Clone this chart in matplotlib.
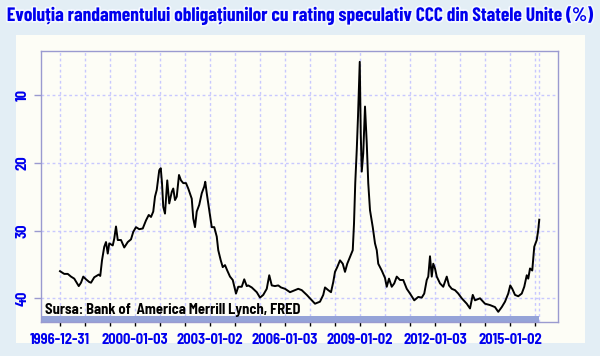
import matplotlib
matplotlib.use("Agg")
import matplotlib.pyplot as plt
import matplotlib.patheffects as pe
from matplotlib.patches import Rectangle

# CCC yield series (decimal year, value on the printed axis)
years = [1997.00, 1997.17, 1997.31, 1997.44, 1997.57, 1997.75, 1997.84, 1997.93,
         1998.04, 1998.17, 1998.24, 1998.37, 1998.55, 1998.61, 1998.68, 1998.77,
         1998.84, 1998.91, 1998.97, 1999.11, 1999.17, 1999.24, 1999.31, 1999.44,
         1999.57, 1999.71, 1999.84, 1999.93, 2000.04, 2000.17, 2000.31, 2000.44,
         2000.55, 2000.64, 2000.73, 2000.80, 2000.87, 2000.97, 2001.03, 2001.08,
         2001.13, 2001.20, 2001.29, 2001.37, 2001.47, 2001.53, 2001.60, 2001.67,
         2001.76, 2001.84, 2001.93, 2002.04, 2002.13, 2002.27, 2002.33, 2002.40,
         2002.47, 2002.57, 2002.67, 2002.77, 2002.81, 2002.87, 2002.97, 2003.07,
         2003.17, 2003.27, 2003.33, 2003.43, 2003.51, 2003.60, 2003.69, 2003.80,
         2003.91, 2004.04, 2004.13, 2004.27, 2004.37, 2004.47, 2004.53, 2004.67,
         2004.87, 2005.00, 2005.13, 2005.27, 2005.37, 2005.47, 2005.60, 2005.73,
         2005.84, 2006.00, 2006.20, 2006.40, 2006.53, 2006.67, 2006.87, 2007.07,
         2007.20, 2007.40, 2007.53, 2007.60, 2007.73, 2007.84, 2007.93, 2008.00,
         2008.09, 2008.20, 2008.31, 2008.40, 2008.49, 2008.60, 2008.71, 2008.76,
         2008.81, 2008.87, 2008.92, 2008.99, 2009.03, 2009.07, 2009.13, 2009.20,
         2009.27, 2009.33, 2009.40, 2009.51, 2009.60, 2009.67, 2009.73, 2009.87,
         2010.00, 2010.07, 2010.16, 2010.27, 2010.37, 2010.47, 2010.60, 2010.73,
         2010.87, 2011.00, 2011.17, 2011.33, 2011.47, 2011.57, 2011.67, 2011.73,
         2011.80, 2011.87, 2011.93, 2012.00, 2012.07, 2012.20, 2012.33, 2012.47,
         2012.56, 2012.67, 2012.80, 2012.93, 2013.07, 2013.27, 2013.40, 2013.51,
         2013.60, 2013.80, 2014.00, 2014.20, 2014.40, 2014.53, 2014.67, 2014.80,
         2014.93, 2015.01, 2015.09, 2015.20, 2015.33, 2015.47, 2015.57, 2015.67,
         2015.73, 2015.80, 2015.89, 2015.97, 2016.07, 2016.13, 2016.17]
values = [36.0, 36.4, 36.4, 36.8, 37.1, 38.2, 37.7, 36.8,
          37.2, 37.6, 37.7, 36.9, 36.5, 36.7, 34.4, 32.4,
          31.7, 33.4, 31.9, 32.2, 31.2, 29.4, 31.4, 31.4,
          32.5, 31.7, 31.3, 30.2, 29.5, 29.8, 29.7, 28.5,
          27.7, 28.0, 27.2, 25.0, 24.0, 21.1, 20.8, 23.0,
          26.5, 27.5, 22.6, 26.0, 24.3, 23.8, 25.5, 25.0,
          21.8, 22.6, 23.0, 23.0, 23.8, 25.3, 28.2, 29.5,
          27.2, 26.2, 24.5, 23.5, 22.8, 24.5, 27.0, 29.5,
          29.5, 30.9, 32.9, 34.4, 35.4, 35.1, 35.9, 36.8,
          37.3, 39.3, 38.3, 38.3, 37.2, 38.2, 38.1, 38.4,
          39.1, 39.9, 39.5, 38.6, 36.6, 38.1, 38.2, 38.1,
          38.4, 38.6, 39.1, 38.8, 38.6, 38.8, 39.5, 40.3,
          40.8, 40.5, 39.5, 38.4, 38.8, 39.1, 37.6, 36.1,
          35.4, 34.4, 34.9, 36.1, 34.9, 33.9, 32.9, 29.0,
          23.0, 18.1, 13.2, 5.1, 15.7, 21.3, 18.6, 11.7,
          17.1, 23.0, 27.0, 29.5, 31.9, 32.9, 34.9, 35.9,
          37.0, 38.3, 37.1, 38.3, 37.8, 36.8, 37.3, 37.3,
          38.6, 39.3, 40.3, 39.8, 39.9, 39.3, 37.3, 36.8,
          33.8, 36.8, 34.9, 35.6, 36.8, 37.8, 38.3, 36.8,
          38.1, 38.6, 38.8, 39.3, 40.0, 40.8, 41.5, 39.5,
          40.3, 40.0, 40.8, 41.0, 41.3, 42.0, 41.3, 40.5,
          39.3, 38.1, 38.6, 39.5, 39.7, 39.3, 38.3, 36.6,
          37.1, 35.6, 35.9, 32.4, 31.4, 29.9, 28.4]

tick_years = list(range(1997, 2017))
tick_labels = {1997: "1996-12-31", 2000: "2000-01-03", 2003: "2003-01-02",
               2006: "2006-01-03", 2009: "2009-01-02", 2012: "2012-01-03",
               2015: "2015-01-02"}
y_ticks = [10, 20, 30, 40]

title = "Evoluția randamentului obligațiunilor cu rating speculativ CCC din Statele Unite (%)"
source = "Sursa: Bank of  America Merrill Lynch, FRED"

title_font = ["Barlow Condensed", "DejaVu Sans"]
label_font = ["Barlow Semi Condensed", "DejaVu Sans"]
blue = "#0000ee"

fig = plt.figure(figsize=(6, 3.56), dpi=100)
fig.patch.set_facecolor("#e3eef5")

# cream panel behind the chart
fig.patches.append(Rectangle((16 / 600, 1 - 343 / 356), 569 / 600, 308 / 356,
                             transform=fig.transFigure, facecolor="#fdfdf6",
                             edgecolor="none", zorder=-1))

fig.text(0.5, 1 - 16 / 356, title, ha="center", va="center", fontsize=14,
         fontweight="bold", color=blue, family=title_font,
         path_effects=[pe.withStroke(linewidth=2.5, foreground="#f4f8ff")])

ax = fig.add_axes([41 / 600, 34 / 356, 517 / 600, 271 / 356])
ax.set_facecolor("#fdfdf6")
ax.plot(years, values, color="black", lw=1.4, zorder=3)

ax.set_xlim(1996.24, 2016.92)
ax.set_ylim(43.5, 3.5)

ax.set_xticks(tick_years)
ax.set_xticklabels([tick_labels.get(t, "") for t in tick_years])
ax.tick_params(axis="x", length=6, width=1, color="black", direction="inout",
               pad=5, labelsize=10.5, labelcolor=blue)
for lab in ax.get_xticklabels():
    lab.set_fontweight("bold")
    lab.set_family(label_font)

ax.set_yticks(y_ticks)
ax.set_yticklabels([str(v) for v in y_ticks], rotation=90, va="center")
ax.tick_params(axis="y", length=5, width=1, color="#9a9ad0", labelsize=10.5,
               labelcolor=blue, pad=3)
for lab in ax.get_yticklabels():
    lab.set_fontweight("bold")
    lab.set_family(label_font)

# dotted grid, one vertical line per year plus one at the last observation
for y in y_ticks:
    ax.axhline(y, color="#c8c8ff", lw=1, ls=(0, (2, 2)), zorder=1)
for x in tick_years + [years[-1]]:
    ax.axvline(x, color="#c8c8ff", lw=1, ls=(0, (2, 2)), zorder=1)

for s in ax.spines.values():
    s.set_color("#9a9ad0")
    s.set_linewidth(1)

# shaded band under the time axis
ax.add_patch(Rectangle((1996.24, 0), years[-1] - 1996.24, 6 / 271,
                       transform=ax.get_xaxis_transform(), facecolor="#95a3d8",
                       edgecolor="none", zorder=2))

ax.text(45 / 600, 1 - 310 / 356, source, transform=fig.transFigure,
        ha="left", va="center", fontsize=10.5, fontweight="bold",
        color="black", family=label_font, zorder=4)

fig.savefig("out.png", dpi=100, facecolor=fig.get_facecolor())
